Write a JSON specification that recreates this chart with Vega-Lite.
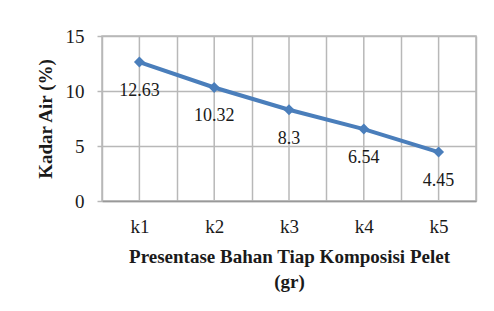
{
  "$schema": "https://vega.github.io/schema/vega-lite/v6.json",
  "width": 374,
  "height": 165,
  "autosize": {"type": "none"},
  "padding": {"left": 102, "top": 36, "right": 18, "bottom": 110},
  "background": "white",
  "view": {"stroke": "#b8b8b8", "strokeWidth": 1.5},
  "data": {"values": [
    {"k": "k1", "air": 12.63},
    {"k": "k2", "air": 10.32},
    {"k": "k3", "air": 8.3},
    {"k": "k4", "air": 6.54},
    {"k": "k5", "air": 4.45}
  ]},
  "encoding": {
    "x": {
      "field": "k", "type": "nominal", "sort": null,
      "scale": {"paddingInner": 0, "paddingOuter": 0},
      "axis": {
        "title": ["Presentase Bahan Tiap Komposisi Pelet", "(gr)"],
        "titleFont": "Liberation Serif",
        "titleFontSize": 19,
        "titleFontWeight": "bold",
        "titleColor": "#1a1a1a",
        "titleLineHeight": 25,
        "titlePadding": 11,
        "labelFont": "Liberation Serif",
        "labelFontSize": 19,
        "labelColor": "#1a1a1a",
        "labelAngle": 0,
        "labelPadding": 16,
        "ticks": false,
        "tickBand": "extent",
        "grid": true,
        "gridColor": "#b8b8b8",
        "gridWidth": 1.5,
        "gridOpacity": 1,
        "domain": true,
        "domainColor": "#999999",
        "domainWidth": 1.5
      }
    }
  },
  "layer": [
    {
      "mark": {"type": "rule", "color": "#b8b8b8", "strokeWidth": 1.5, "opacity": 1},
      "encoding": {}
    },
    {
      "mark": {"type": "line", "color": "#4A7EBB", "strokeWidth": 4},
      "encoding": {
        "y": {
          "field": "air", "type": "quantitative",
          "scale": {"domain": [0, 15], "nice": false, "zero": true},
          "axis": {
            "title": "Kadar Air (%)",
            "titleFont": "Liberation Serif",
            "titleFontSize": 19,
            "titleFontWeight": "bold",
            "titleColor": "#1a1a1a",
            "labelFont": "Liberation Serif",
            "labelFontSize": 19,
            "labelColor": "#1a1a1a",
            "values": [0, 5, 10, 15],
            "ticks": true,
            "tickSize": 5,
            "tickColor": "#b8b8b8",
            "tickWidth": 1.5,
            "domain": false,
            "labelPadding": 13,
            "titlePadding": 10,
            "grid": true,
            "gridColor": "#b8b8b8",
            "gridWidth": 1.5,
            "gridOpacity": 1
          }
        }
      }
    },
    {
      "mark": {"type": "point", "shape": "diamond", "filled": true, "color": "#4A7EBB", "size": 120, "opacity": 1},
      "encoding": {"y": {"field": "air", "type": "quantitative", "scale": {"domain": [0, 15], "nice": false}}}
    },
    {
      "mark": {"type": "text", "baseline": "middle", "dy": 29, "fontSize": 18, "font": "Liberation Serif", "color": "#1a1a1a"},
      "encoding": {
        "y": {"field": "air", "type": "quantitative", "scale": {"domain": [0, 15], "nice": false}},
        "text": {"field": "air", "type": "quantitative"}
      }
    }
  ]
}
